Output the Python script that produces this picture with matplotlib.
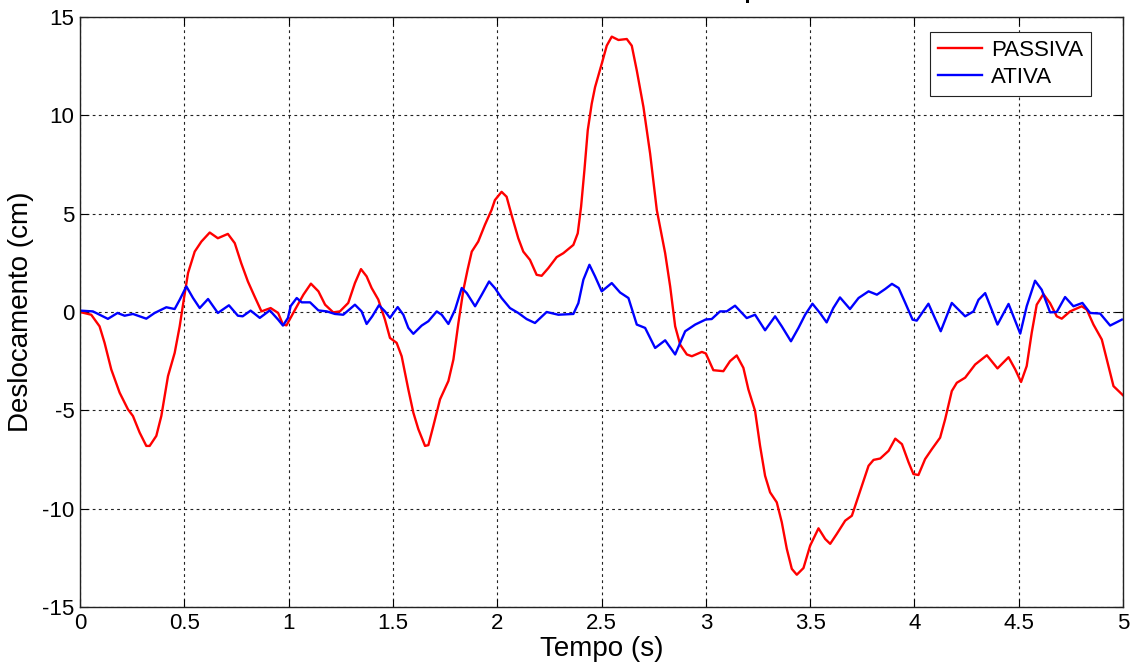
import matplotlib
matplotlib.use("Agg")
import matplotlib.pyplot as plt

# passive suspension displacement (cm) over time (s)
t_passiva = [0, 0.054, 0.094, 0.118, 0.15, 0.19, 0.23, 0.254, 0.286, 0.318, 0.334, 0.366, 0.39, 0.422,
             0.454, 0.478, 0.5, 0.518, 0.55, 0.582, 0.622, 0.661, 0.709, 0.742, 0.773, 0.805, 0.837,
             0.87, 0.914, 0.95, 0.973, 0.99, 1.031, 1.071, 1.107, 1.143, 1.175, 1.214, 1.246, 1.286,
             1.318, 1.347, 1.374, 1.398, 1.43, 1.462, 1.486, 1.518, 1.542, 1.574, 1.598, 1.622, 1.654,
             1.67, 1.694, 1.726, 1.766, 1.79, 1.814, 1.838, 1.858, 1.878, 1.909, 1.941, 1.973, 1.989,
             2.021, 2.045, 2.069, 2.101, 2.125, 2.157, 2.189, 2.213, 2.245, 2.285, 2.317, 2.365, 2.386,
             2.402, 2.418, 2.434, 2.453, 2.469, 2.501, 2.525, 2.549, 2.581, 2.621, 2.645, 2.669, 2.701,
             2.733, 2.765, 2.805, 2.829, 2.853, 2.877, 2.909, 2.933, 2.981, 3.0, 3.036, 3.084, 3.116,
             3.148, 3.18, 3.204, 3.236, 3.26, 3.284, 3.308, 3.34, 3.364, 3.388, 3.412, 3.436, 3.468,
             3.5, 3.54, 3.572, 3.596, 3.628, 3.668, 3.7, 3.732, 3.78, 3.804, 3.836, 3.876, 3.908, 3.94,
             3.972, 3.995, 4.019, 4.051, 4.083, 4.123, 4.147, 4.179, 4.203, 4.243, 4.291, 4.347, 4.398,
             4.451, 4.483, 4.511, 4.538, 4.562, 4.586, 4.618, 4.65, 4.682, 4.706, 4.746, 4.802, 4.826,
             4.858, 4.898, 4.93, 4.954, 5.0]
passiva = [0, -0.14, -0.73, -1.57, -2.92, -4.1, -4.95, -5.29, -6.13, -6.81, -6.81, -6.3, -5.29, -3.26,
           -2.08, -0.73, 0.79, 1.98, 3.07, 3.58, 4.04, 3.75, 3.97, 3.5, 2.48, 1.55, 0.79,
           0.03, 0.2, -0.05, -0.64, -0.68, 0.12, 0.88, 1.44, 1.05, 0.37, -0.02, 0.03, 0.46,
           1.47, 2.18, 1.81, 1.22, 0.63, -0.39, -1.32, -1.57, -2.25, -3.94, -5.12, -5.96, -6.81,
           -6.77, -5.79, -4.44, -3.51, -2.42, -0.56, 1.13, 2.15, 3.07, 3.58, 4.43, 5.19, 5.69,
           6.11, 5.86, 4.93, 3.75, 3.07, 2.65, 1.89, 1.84, 2.23, 2.79, 2.99, 3.41, 4.0,
           5.35, 7.21, 9.24, 10.59, 11.43, 12.62, 13.54, 14.0, 13.83, 13.88, 13.54, 12.28, 10.42,
           8.05, 5.18, 2.99, 1.3, -0.73, -1.66, -2.16, -2.25, -2.03, -2.11, -2.96, -3.01, -2.5,
           -2.21, -2.84, -3.94, -5.03, -6.81, -8.33, -9.17, -9.68, -10.69, -12.04, -13.06, -13.36, -13.02,
           -11.88, -11.0, -11.54, -11.79, -11.28, -10.61, -10.36, -9.34, -7.82, -7.52, -7.45, -7.06, -6.44, -6.72,
           -7.65, -8.24, -8.29, -7.48, -6.98, -6.39, -5.46, -4.02, -3.6, -3.34, -2.67, -2.2, -2.87,
           -2.3, -2.92, -3.56, -2.75, -1.06, 0.37, 0.91, 0.45, -0.22, -0.34, 0.03, 0.29, 0.12,
           -0.64, -1.4, -2.75, -3.77, -4.24]

# active suspension displacement (cm) over time (s)
t_ativa = [0, 0.062, 0.134, 0.18, 0.214, 0.254, 0.318, 0.358, 0.414, 0.454, 0.478, 0.51, 0.542, 0.574,
           0.614, 0.661, 0.714, 0.757, 0.78, 0.818, 0.862, 0.91, 0.95, 0.973, 0.997, 1.01, 1.039,
           1.063, 1.103, 1.143, 1.183, 1.222, 1.262, 1.318, 1.35, 1.374, 1.401, 1.433, 1.462, 1.486,
           1.523, 1.55, 1.574, 1.598, 1.638, 1.67, 1.71, 1.734, 1.766, 1.798, 1.83, 1.854, 1.894,
           1.926, 1.961, 1.99, 2.021, 2.061, 2.101, 2.141, 2.181, 2.237, 2.293, 2.365, 2.389, 2.413,
           2.442, 2.469, 2.501, 2.549, 2.589, 2.629, 2.669, 2.709, 2.757, 2.805, 2.853, 2.901, 2.949,
           3.0, 3.028, 3.068, 3.1, 3.14, 3.196, 3.236, 3.284, 3.332, 3.364, 3.408, 3.444, 3.476,
           3.511, 3.547, 3.579, 3.611, 3.643, 3.691, 3.732, 3.78, 3.82, 3.86, 3.892, 3.924, 3.956,
           3.991, 4.011, 4.067, 4.126, 4.179, 4.243, 4.283, 4.307, 4.339, 4.398, 4.451, 4.507, 4.538,
           4.578, 4.61, 4.65, 4.682, 4.722, 4.762, 4.805, 4.842, 4.89, 4.938, 4.994]
ativa = [0.07, 0.03, -0.35, -0.05, -0.19, -0.1, -0.34, -0.05, 0.24, 0.15, 0.62, 1.3, 0.71, 0.2,
         0.66, -0.05, 0.34, -0.19, -0.22, 0.07, -0.3, 0.08, -0.39, -0.69, -0.3, 0.3, 0.71,
         0.49, 0.49, 0.08, 0.03, -0.1, -0.14, 0.37, 0.03, -0.61, -0.22, 0.34, 0.03, -0.3,
         0.25, -0.14, -0.81, -1.11, -0.69, -0.47, 0.03, -0.14, -0.61, 0.12, 1.22, 0.96, 0.29,
         0.88, 1.55, 1.2, 0.71, 0.2, -0.05, -0.36, -0.56, 0.0, -0.14, -0.1, 0.45, 1.64,
         2.4, 1.81, 1.05, 1.47, 0.99, 0.71, -0.64, -0.81, -1.83, -1.44, -2.16, -0.98, -0.64,
         -0.38, -0.36, 0.03, 0.03, 0.32, -0.31, -0.14, -0.93, -0.22, -0.73, -1.49, -0.81, -0.14,
         0.42, -0.05, -0.53, 0.2, 0.74, 0.15, 0.71, 1.05, 0.88, 1.17, 1.43, 1.22, 0.46,
         -0.39, -0.44, 0.42, -0.98, 0.46, -0.22, 0.03, 0.62, 0.96, -0.64, 0.41, -1.1, 0.29,
         1.59, 1.13, -0.02, 0.0, 0.76, 0.29, 0.46, -0.05, -0.08, -0.69, -0.39]

x_ticks = [0, 0.5, 1, 1.5, 2, 2.5, 3, 3.5, 4, 4.5, 5]
y_ticks = [-15, -10, -5, 0, 5, 10, 15]

plt.rcParams['font.family'] = ['Liberation Sans', 'DejaVu Sans']
plt.rcParams['axes.unicode_minus'] = False

fig = plt.figure(figsize=(11.31, 6.71), dpi=100)
ax = fig.add_axes([0.0707, 0.0954, 0.9223, 0.8793])

ax.plot(t_passiva, passiva, color='#ff0000', lw=1.7, label='PASSIVA')
ax.plot(t_ativa, ativa, color='#0000ff', lw=1.7, label='ATIVA')

ax.set_xlim(0, 5)
ax.set_ylim(-15, 15)
ax.set_xticks(x_ticks)
ax.set_xticklabels([f'{v:g}' for v in x_ticks])
ax.set_yticks(y_ticks)
ax.tick_params(direction='in', top=True, right=True, length=6, width=0.8,
               labelsize=16, pad=4)
ax.grid(True, color='#222222', linestyle=(0, (2.5, 3)), linewidth=0.8)
for s in ax.spines.values():
    s.set_linewidth(1.0)
    s.set_color('#222222')

ax.set_xlabel('Tempo (s)', fontsize=20, labelpad=2)
ax.set_ylabel('Deslocamento (cm)', fontsize=20, labelpad=6)

leg = ax.legend(loc='upper right', bbox_to_anchor=(0.969, 0.975), borderaxespad=0,
                fontsize=16, handlelength=2.0, handletextpad=0.4, borderpad=0.35,
                labelspacing=0.3, fancybox=False, framealpha=1)
leg.get_frame().set_edgecolor('#222222')
leg.get_frame().set_linewidth(0.8)

# bold title sits mostly above the canvas
fig.text(0.682, 1.0025, 'Deslocamento x Tempo', ha='right', va='baseline',
         fontsize=16, fontweight='bold')

fig.savefig('out.png', dpi=100)
